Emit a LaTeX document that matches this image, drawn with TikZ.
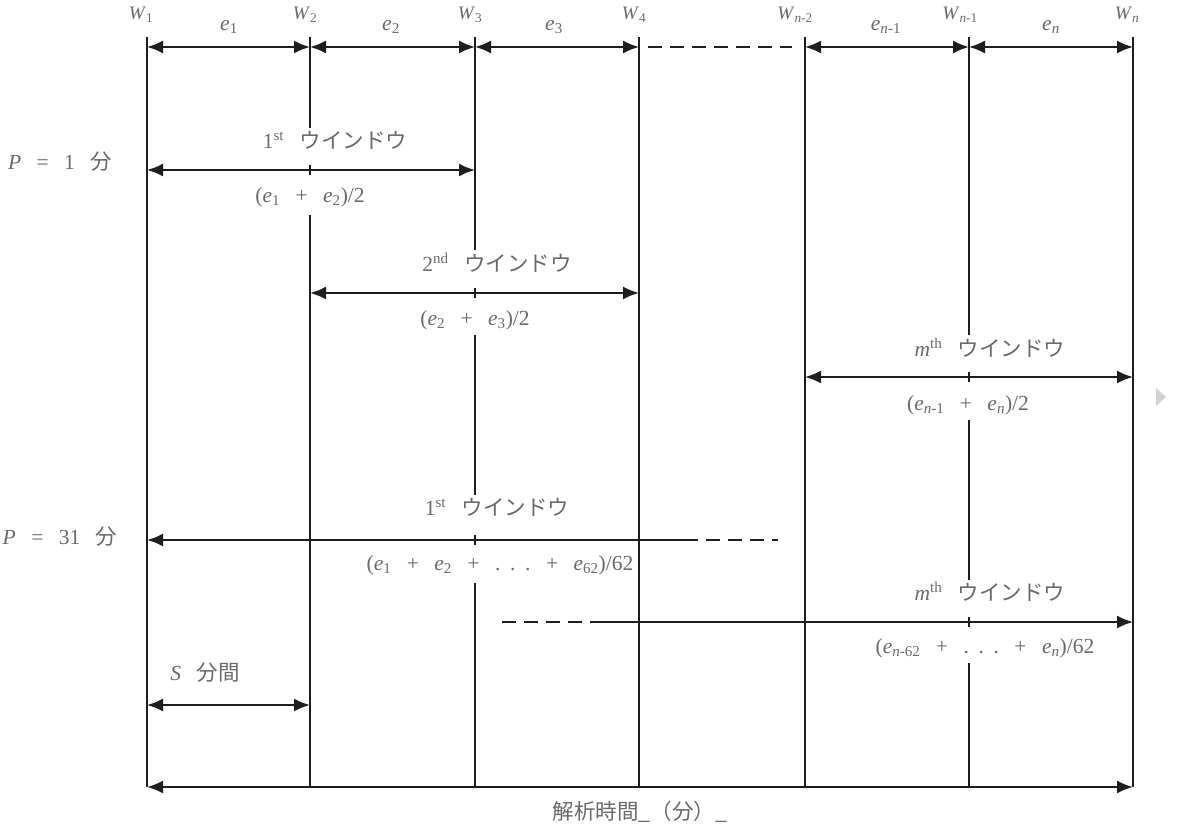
\documentclass[tikz,border=0pt]{standalone}
\usepackage{fontspec}
\setmainfont{Liberation Serif}
\newfontfamily\jp{Noto Sans CJK JP}
\usetikzlibrary{arrows.meta}
\definecolor{txt}{HTML}{6a6a6a}
\definecolor{ln}{HTML}{1e1e1e}
\newcommand\sep{\hspace{0.72em}}
\newcommand\ssep{\hspace{0.45em}}
\begin{document}
\begin{tikzpicture}[x=1pt,y=-1pt,
  vline/.style={draw=ln,line width=2pt},
  tip/.tip={Latex[length=16pt,width=13pt]},
  dim/.style={draw=ln,line width=2pt,tip-tip},
  larr/.style={draw=ln,line width=2pt,tip-},
  rarr/.style={draw=ln,line width=2pt,-tip},
  dline/.style={draw=ln,line width=2pt,dash pattern=on 14pt off 8pt},
  lbl/.style={text=txt,font=\fontsize{21.5}{24}\selectfont,inner sep=0pt},
  wl/.style={text=txt,font=\fontsize{19}{21}\selectfont,inner sep=0pt},
]
\useasboundingbox (0,0) rectangle (1192,832);
% line coordinates
\foreach \n/\x in {1/147,2/310,3/475,4/639,5/805,6/969,7/1133}{
  \coordinate (T\n) at (\x,37);
  \coordinate (B\n) at (\x,787);
  \coordinate (A\n) at (\x,47);
}
% continuous vertical lines
\foreach \n in {1,4,5,7} \draw[vline] (T\n) -- (B\n);
% W2 with gaps
\draw[vline] (T2) -- (310,128) (310,165) -- (310,175) (310,215) -- (B2);
% W3 with gaps
\draw[vline] (T3) -- (475,250) (475,288) -- (475,298) (475,335) -- (475,495)
  (475,535) -- (475,545) (475,583) -- (B3);
% Wn-1 with gaps
\draw[vline] (T6) -- (969,335) (969,372) -- (969,382) (969,420) -- (969,580)
  (969,617) -- (969,627) (969,663) -- (B6);
% top dimension arrows
\draw[dim] (A1) -- (A2);
\draw[dim] (A2) -- (A3);
\draw[dim] (A3) -- (A4);
\coordinate (D1) at (648,47);
\coordinate (D2) at (792,47);
\draw[dline] (D1) -- (D2);
\draw[dim] (A5) -- (A6);
\draw[dim] (A6) -- (A7);
% window arrows
\coordinate (p1a) at (147,170); \coordinate (p1b) at (475,170);
\draw[dim] (p1a) -- (p1b);
\coordinate (p2a) at (310,293); \coordinate (p2b) at (639,293);
\draw[dim] (p2a) -- (p2b);
\coordinate (pma) at (805,377); \coordinate (pmb) at (1133,377);
\draw[dim] (pma) -- (pmb);
\coordinate (q1a) at (147,540); \coordinate (q1b) at (684,540); \coordinate (q1c) at (778,540);
\draw[larr] (q1a) -- (q1b);
\draw[dline] (q1b) -- (q1c);
\coordinate (qma) at (502,622); \coordinate (qmb) at (596,622); \coordinate (qmc) at (1133,622);
\draw[dline] (qma) -- (qmb);
\draw[rarr] (qmb) -- (qmc);
\coordinate (sa) at (147,705); \coordinate (sb) at (310,705);
\draw[dim] (sa) -- (sb);
\draw[dim] (B1) -- (B7);
% labels
\node[wl] (w1) at (141,15) {\textit{W}\textsubscript{1}};
\node[wl] (w2) at (305,15) {\textit{W}\textsubscript{2}};
\node[wl] (w3) at (470,15) {\textit{W}\textsubscript{3}};
\node[wl] (w4) at (634,15) {\textit{W}\textsubscript{4}};
\node[wl] (w5) at (795,15) {\textit{W}\textsubscript{\textit{n}-2}};
\node[wl] (w6) at (960,15) {\textit{W}\textsubscript{\textit{n}-1}};
\node[wl] (w7) at (1127,15) {\textit{W}\textsubscript{\textit{n}}};
\node[lbl] (e1) at (229,27) {\textit{e}\textsubscript{1}};
\node[lbl] (e2) at (391,27) {\textit{e}\textsubscript{2}};
\node[lbl] (e3) at (554,27) {\textit{e}\textsubscript{3}};
\node[lbl] (e5) at (886,27) {\textit{e}\textsubscript{\textit{n}-1}};
\node[lbl] (e6) at (1051,27) {\textit{e}\textsubscript{\textit{n}}};
\node[lbl] (P1) at (60,162) {\textit{P}\sep=\sep1\sep{\jp 分}};
\node[lbl] (P31) at (60,537) {\textit{P}\sep=\sep31\sep{\jp 分}};
\node[lbl] (l1) at (335,140) {1\textsuperscript{st}\sep{\jp ウインドウ}};
\node[lbl] (f1) at (310,197) {(\textit{e}\textsubscript{1}\sep+\sep\textit{e}\textsubscript{2})/2};
\node[lbl] (l2) at (497,263) {2\textsuperscript{nd}\sep{\jp ウインドウ}};
\node[lbl] (f2) at (475,320) {(\textit{e}\textsubscript{2}\sep+\sep\textit{e}\textsubscript{3})/2};
\node[lbl] (lm) at (990,348) {\textit{m}\textsuperscript{th}\sep{\jp ウインドウ}};
\node[lbl] (fm) at (968,405) {(\textit{e}\textsubscript{\textit{n}-1}\sep+\sep\textit{e}\textsubscript{\textit{n}})/2};
\node[lbl] (l31) at (497,507) {1\textsuperscript{st}\sep{\jp ウインドウ}};
\node[lbl] (f31) at (500,565) {(\textit{e}\textsubscript{1}\sep+\sep\textit{e}\textsubscript{2}\sep+\sep.\ssep.\ssep.\sep+\sep\textit{e}\textsubscript{62})/62};
\node[lbl] (lm31) at (990,592) {\textit{m}\textsuperscript{th}\sep{\jp ウインドウ}};
\node[lbl] (fm31) at (985,648) {(\textit{e}\textsubscript{\textit{n}-62}\sep+\sep.\ssep.\ssep.\sep+\sep\textit{e}\textsubscript{\textit{n}})/62};
\node[lbl] (S) at (205,673) {\textit{S}\sep{\jp 分間}};
\node[lbl] (ax) at (640,812) {{\jp 解析時間\_（分）\_}};
% side marker
\fill[gray!35] (1156,388) -- (1166,397) -- (1156,406) -- cycle;
\end{tikzpicture}
\end{document}
